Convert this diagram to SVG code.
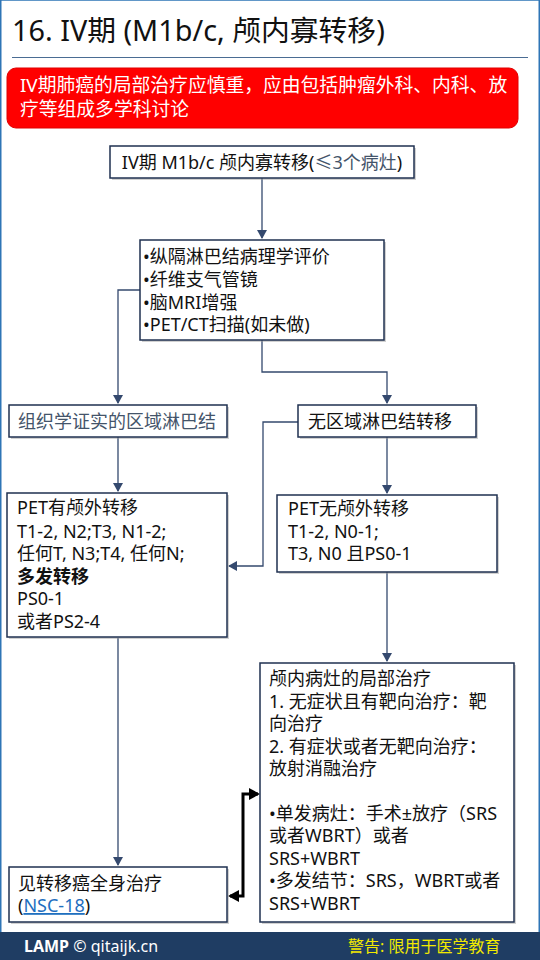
<svg xmlns="http://www.w3.org/2000/svg" width="540" height="960" viewBox="0 0 540 960">
<style>
text{font-family:"Noto Sans","Noto Sans CJK SC",sans-serif;fill:#111;}
.t{font-size:18px;}
.box{fill:#fff;stroke:#1F3050;stroke-width:1.5;}
.sh{fill:#9a9a9a;opacity:0.45;}
.c{fill:none;stroke:#34496E;stroke-width:1.3;}
.slate{fill:#44546A;}
</style>
<defs>
<marker id="ah" markerWidth="10" markerHeight="10" refX="8" refY="5" orient="auto" markerUnits="userSpaceOnUse">
<path d="M0,0 L9,5 L0,10 Z" fill="#34496E"/>
</marker>
<marker id="bh" markerWidth="12" markerHeight="12" refX="9" refY="6" orient="auto" markerUnits="userSpaceOnUse">
<path d="M0,0 L11,6 L0,12 Z" fill="#000"/>
</marker>
<marker id="bs" markerWidth="12" markerHeight="12" refX="2" refY="6" orient="auto" markerUnits="userSpaceOnUse">
<path d="M11,0 L0,6 L11,12 Z" fill="#000"/>
</marker>
</defs>
<rect x="0" y="0" width="540" height="960" fill="#fff"/>
<rect x="0.75" y="0" width="538.5" height="960" fill="none" stroke="#2E75B6" stroke-width="1.5"/>
<g id="title">
<text x="12" y="41" style="font-size:28.8px">16. IV期 (M1b/c, 颅内寡转移)</text>
<line x1="12" y1="57.5" x2="528" y2="57.5" stroke="#4A6C93" stroke-width="1"/>
</g>
<g id="warning">
<rect x="7" y="68" width="511" height="60" rx="9" fill="#FF0000" stroke="#E00000"/>
<text x="20" y="92" style="font-size:18.8px;fill:#fff">IV期肺癌的局部治疗应慎重，应由包括肿瘤外科、内科、放</text>
<text x="20" y="116" style="font-size:18.8px;fill:#fff">疗等组成多学科讨论</text>
</g>
<g id="connectors">
<path class="c" d="M262,178 V238" marker-end="url(#ah)"/>
<path class="c" d="M140,290 H118 V403" marker-end="url(#ah)"/>
<path class="c" d="M262,340 V372 H387 V403" marker-end="url(#ah)"/>
<path class="c" d="M298,422 H263 V566 H229" marker-end="url(#ah)"/>
<path class="c" d="M118,437 V491" marker-end="url(#ah)"/>
<path class="c" d="M387,437 V493" marker-end="url(#ah)"/>
<path class="c" d="M118,638 V865" marker-end="url(#ah)"/>
<path class="c" d="M387,572 V661" marker-end="url(#ah)"/>
<path d="M230,896 H243 V794 H258" fill="none" stroke="#000" stroke-width="3" marker-start="url(#bs)" marker-end="url(#bh)"/>
</g>
<g id="n1">
<rect class="sh" x="112" y="148" width="304" height="32"/>
<rect class="box" x="110" y="146" width="304" height="32"/>
<text class="t" x="262" y="169" text-anchor="middle">IV期 M1b/c 颅内寡转移(<tspan class="slate">≤3个病灶</tspan>)</text>
</g>
<g id="n2">
<rect class="sh" x="142" y="242" width="244" height="100"/>
<rect class="box" x="140" y="240" width="244" height="100"/>
<text class="t" x="143" y="263">•纵隔淋巴结病理学评价</text>
<text class="t" x="143" y="286">•纤维支气管镜</text>
<text class="t" x="143" y="309">•脑MRI增强</text>
<text class="t" x="143" y="331">•PET/CT扫描(如未做)</text>
</g>
<g id="n3">
<rect class="sh" x="11" y="407" width="218" height="32"/>
<rect class="box" x="9" y="405" width="218" height="32"/>
<text class="t slate" x="18" y="428">组织学证实的区域淋巴结</text>
</g>
<g id="n4">
<rect class="sh" x="300" y="407" width="178" height="32"/>
<rect class="box" x="298" y="405" width="178" height="32"/>
<text class="t" x="308" y="428">无区域淋巴结转移</text>
</g>
<g id="n5">
<rect class="sh" x="9" y="495" width="220" height="144"/>
<rect class="box" x="7" y="493" width="220" height="144"/>
<text class="t" x="17" y="514">PET有颅外转移</text>
<text class="t" x="17" y="538">T1-2, N2;T3, N1-2;</text>
<text class="t" x="17" y="560">任何T, N3;T4, 任何N;</text>
<text class="t" x="17" y="583" font-weight="bold">多发转移</text>
<text class="t" x="17" y="605">PS0-1</text>
<text class="t" x="17" y="628">或者PS2-4</text>
</g>
<g id="n6">
<rect class="sh" x="279" y="497" width="220" height="77"/>
<rect class="box" x="277" y="495" width="220" height="77"/>
<text class="t" x="288" y="515">PET无颅外转移</text>
<text class="t" x="288" y="538">T1-2, N0-1;</text>
<text class="t" x="288" y="560">T3, N0 且PS0-1</text>
</g>
<g id="n7">
<rect class="sh" x="262" y="665" width="254" height="259"/>
<rect class="box" x="260" y="663" width="254" height="259"/>
<text class="t" x="269" y="685">颅内病灶的局部治疗</text>
<text class="t" x="269" y="708">1. 无症状且有靶向治疗：靶</text>
<text class="t" x="269" y="730">向治疗</text>
<text class="t" x="269" y="753">2. 有症状或者无靶向治疗：</text>
<text class="t" x="269" y="775">放射消融治疗</text>
<text class="t" x="269" y="820">•单发病灶：手术±放疗（SRS</text>
<text class="t" x="269" y="842">或者WBRT）或者</text>
<text class="t" x="269" y="865">SRS+WBRT</text>
<text class="t" x="269" y="887">•多发结节：SRS，WBRT或者</text>
<text class="t" x="269" y="910">SRS+WBRT</text>
</g>
<g id="n8">
<rect class="sh" x="11" y="869" width="218" height="55"/>
<rect class="box" x="9" y="867" width="218" height="55"/>
<text class="t" x="18" y="890">见转移癌全身治疗</text>
<text class="t" x="18" y="912">(<tspan fill="#1F6FBF" text-decoration="underline">NSC-18</tspan>)</text>
</g>
<g id="footer">
<rect x="0" y="932" width="540" height="28" fill="#1F3D63"/>
<text x="24" y="952" style="font-size:16px;fill:#fff"><tspan font-weight="bold">LAMP</tspan> © qitaijk.cn</text>
<text x="348" y="952" style="font-size:16px;fill:#F2EA00">警告: 限用于医学教育</text>
</g>
</svg>
